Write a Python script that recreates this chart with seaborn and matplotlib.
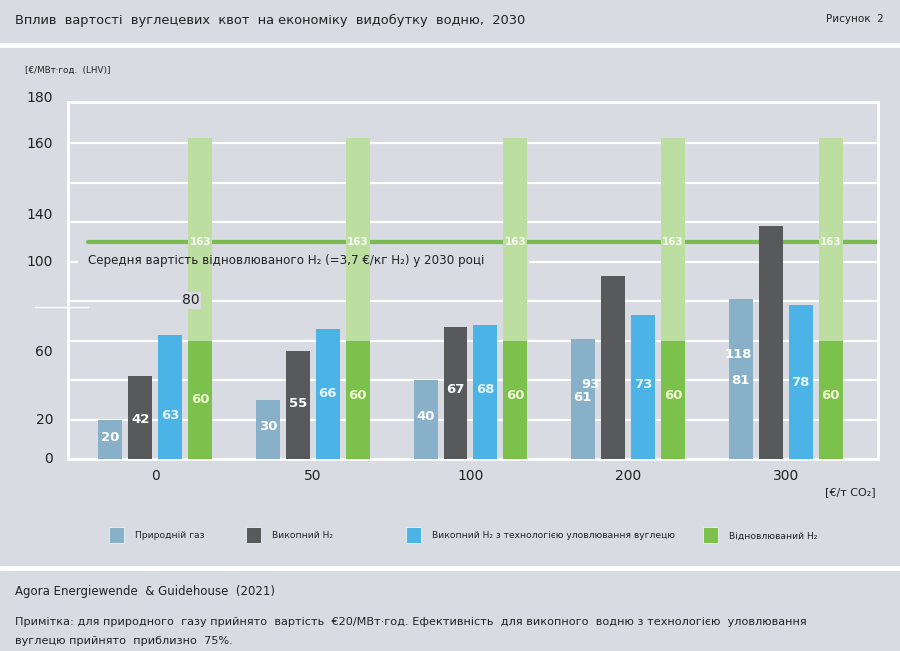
import numpy as np
import pandas as pd
import matplotlib
matplotlib.use('Agg')
import matplotlib.pyplot as plt
import seaborn as sns
from matplotlib.patches import Rectangle
from matplotlib.lines import Line2D

# values, EUR/MWh (LHV)
co2_prices = ['0', '50', '100', '200', '300']
natural_gas = [20, 30, 40, 61, 81]
fossil_h2 = [42, 55, 67, 93, 118]
fossil_ccs_h2 = [63, 66, 68, 73, 78]
renewable_h2 = [60, 60, 60, 60, 60]
renewable_h2_top = [163, 163, 163, 163, 163]
renewable_avg = 110

series_names = ['Природній газ', 'Викопний H₂',
                'Викопний H₂ з технологією уловлювання вуглецю',
                'Відновлюваний H₂']

# y axis labels as printed in the source (they are not evenly spaced there)
ytick_labels = ['0', '20', '60', '100', '140', '160', '180']
ytick_pos = [0, 20, 54, 100, 123.5, 159.5, 183]

bg = '#d8dbe2'
colors = ['#88b0c9', '#58595b', '#4cb3e6', '#7bc14b']
light_green = '#bcdea1'
line_green = '#79bb50'
label_colors = ['white', 'white', '#e4f5fd', '#eef7d0']

W, H = 900, 651


def fx(x):
    return x / W


def fy(y):
    return 1 - y / H


sns.set_theme(style='white')
plt.rcParams['font.family'] = ['DejaVu Sans']

fig = plt.figure(figsize=(9, 6.51), dpi=100, facecolor=bg)
ax = fig.add_axes([fx(68), fy(459), 810 / W, 357 / H], facecolor=bg)

n = len(co2_prices)
df_front = pd.DataFrame({
    'price': co2_prices * 4,
    'tech': np.repeat(series_names, n),
    'value': natural_gas + fossil_h2 + fossil_ccs_h2 + renewable_h2,
})
df_back = pd.DataFrame({
    'price': co2_prices * 4,
    'tech': np.repeat(series_names, n),
    'value': [0] * n * 3 + renewable_h2_top,
})

bar_kw = dict(x='price', y='value', hue='tech', hue_order=series_names,
              order=co2_prices, width=0.76, gap=0.2, saturation=1,
              errorbar=None, legend=False, linewidth=0, ax=ax)
sns.barplot(data=df_back, palette=[bg, bg, bg, light_green], zorder=2, **bar_kw)
sns.barplot(data=df_front, palette=colors, zorder=3, **bar_kw)

back_bars = ax.containers[3]
front = ax.containers[4:8]

ax.set_xlim(-0.554, 4.586)
ax.set_ylim(0, 181)
ax.set_xlabel('')
ax.set_ylabel('')

for s in ax.spines.values():
    s.set_color('white')
    s.set_linewidth(2)

ax.set_yticks([])
ax.set_xticks(np.arange(n - 1) + 0.5, minor=True)
ax.tick_params(axis='x', which='major', length=0, pad=7, labelsize=10,
               labelcolor='#222222')
ax.tick_params(axis='x', which='minor', length=7, width=1.5, color='white',
               direction='out')

# grid
for v in [20, 40, 60, 80, 120, 140, 160]:
    ax.axhline(v, color='white', lw=1.6, zorder=1)
ax.axhline(100, xmin=0, xmax=0.011, color='white', lw=1.6, zorder=1)
ax.axhline(100, xmin=0.57, xmax=1, color='white', lw=1.6, zorder=1)
ax.plot([-0.041, 0.025], [77, 77], transform=ax.get_yaxis_transform(),
        color='white', lw=1, clip_on=False, zorder=1)

# average renewable cost
ax.axhline(renewable_avg, xmin=0.025, xmax=1, color=line_green, lw=3, zorder=1.5)
ax.text(0.025, 100.5, 'Середня вартість відновлюваного H₂ (=3,7 €/кг H₂) у 2030 році',
        transform=ax.get_yaxis_transform(), ha='left', va='center',
        fontsize=8.6, color='#222222', zorder=5)

for lab, pos in zip(ytick_labels, ytick_pos):
    ax.text(-0.0185, pos, lab, transform=ax.get_yaxis_transform(),
            ha='right', va='center', fontsize=10, color='#222222', clip_on=False)
ax.text(0.152, 80.5, '80', transform=ax.get_yaxis_transform(), ha='center',
        va='center', fontsize=10, color='#222222', zorder=6,
        bbox=dict(boxstyle='square,pad=0.1', fc=bg, ec='none'))

# labels inside bars: (series of the bar it sits in, x shift, y)
px = 5.14 / 810
label_y = [
    [(0, 0, 11), (0, 0, 16.5), (0, 0, 21.5), (0, -1, 31), (0, 0, 40)],
    [(1, 0, 20), (1, 0, 28), (1, 0, 35), (0, 7, 38), (0, -2, 53)],
    [(2, 0, 22), (2, 0, 33), (2, 0, 35), (2, 0, 38), (2, 0, 39)],
    [(3, 0, 30), (3, 0, 32), (3, 0, 32), (3, 0, 32), (3, 0, 32)],
]
values = [natural_gas, fossil_h2, fossil_ccs_h2, renewable_h2]
for i, vals in enumerate(values):
    for j, v in enumerate(vals):
        k, dx, yy = label_y[i][j]
        b = front[k][j]
        ax.text(b.get_x() + b.get_width() / 2 + dx * px, yy, str(v),
                ha='center', va='center', fontsize=9.5, fontweight='bold',
                color=label_colors[i], zorder=6)

for b, v in zip(back_bars, renewable_h2_top):
    ax.text(b.get_x() + b.get_width() / 2, renewable_avg, str(v), ha='center',
            va='center', fontsize=7.5, fontweight='bold', color='#f4faee', zorder=6)

# header / footer
fig.add_artist(Line2D([0, 1], [fy(45), fy(45)], transform=fig.transFigure,
                      color='white', lw=3.5))
fig.add_artist(Line2D([0, 1], [fy(568), fy(568)], transform=fig.transFigure,
                      color='white', lw=3.5))
fig.text(fx(15), fy(20), 'Вплив  вартості  вуглецевих  квот  на економіку  видобутку  водню,  2030',
         ha='left', va='center', fontsize=9.4, color='#222222')
fig.text(fx(884), fy(19), 'Рисунок  2', ha='right', va='center', fontsize=7.5,
         color='#222222')
fig.text(fx(25), fy(70), '[€/МВт·год.  (LHV)]', ha='left', va='center',
         fontsize=6.3, color='#222222')
fig.text(fx(876), fy(492), '[€/т CO₂]', ha='right', va='center', fontsize=8,
         color='#222222')

legend_x = [109, 246, 406, 703]
for x0, name, c in zip(legend_x, series_names, colors):
    fig.add_artist(Rectangle((fx(x0), fy(543)), 15 / W, 16 / H,
                             transform=fig.transFigure, fc=c, ec='#eef0f4', lw=0.6))
    fig.text(fx(x0 + 26), fy(536), name, ha='left', va='center', fontsize=6.6,
             color='#222222')

fig.text(fx(15), fy(592), 'Agora Energiewende  & Guidehouse  (2021)', ha='left',
         va='center', fontsize=8.5, color='#222222')
fig.text(fx(15), fy(622),
         'Примітка: для природного  газу прийнято  вартість  €20/МВт·год. Ефективність  для викопного  водню з технологією  уловлювання',
         ha='left', va='center', fontsize=8.1, color='#222222')
fig.text(fx(15), fy(641), 'вуглецю прийнято  приблизно  75%.', ha='left',
         va='center', fontsize=8.1, color='#222222')

fig.savefig('out.png', dpi=100, facecolor=bg)
